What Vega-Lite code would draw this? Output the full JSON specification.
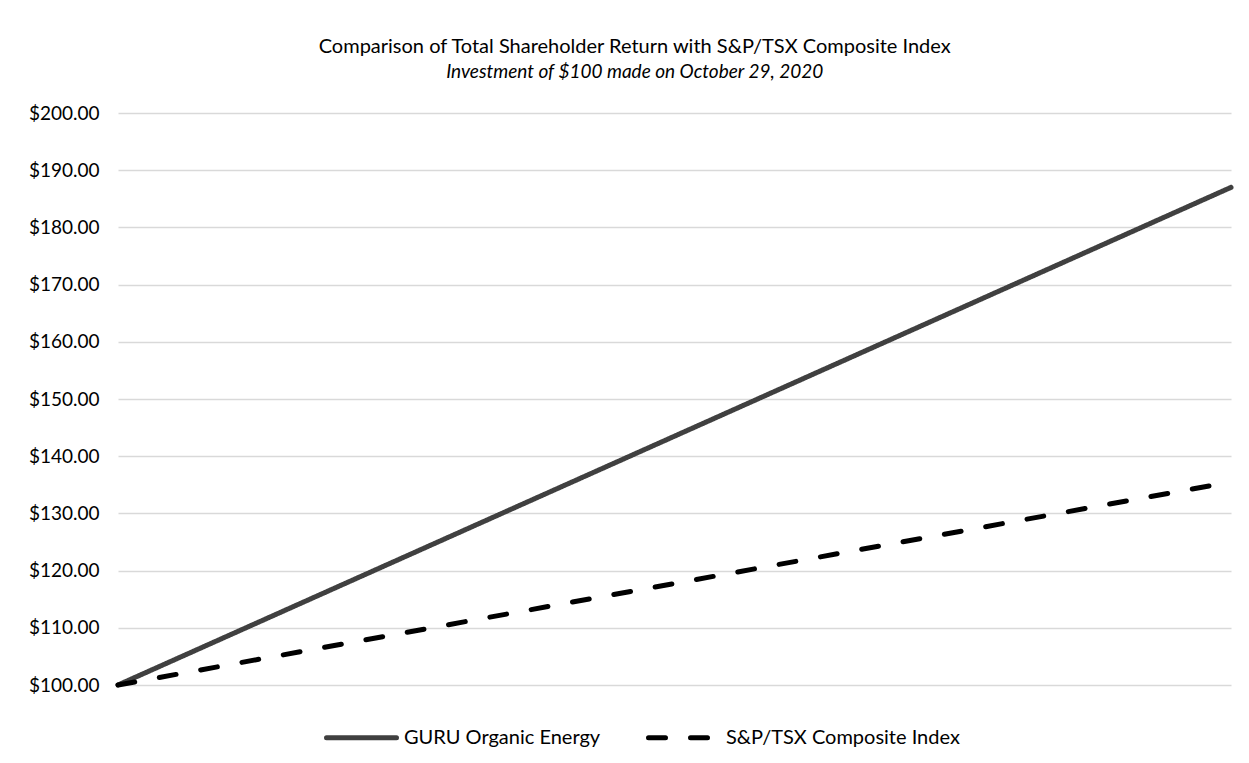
{
  "$schema": "https://vega.github.io/schema/vega-lite/v6.json",
  "width": 1113,
  "height": 572,
  "autosize": {"type": "none"},
  "padding": {"left": 118, "top": 113, "right": 18, "bottom": 78},
  "background": "white",
  "title": {
    "text": "Comparison of Total Shareholder Return with S&P/TSX Composite Index",
    "subtitle": "Investment of $100 made on October 29, 2020",
    "font": "Lato",
    "fontSize": 20,
    "fontWeight": "normal",
    "color": "#000000",
    "subtitleFont": "Lato",
    "subtitleFontSize": 19,
    "subtitleFontStyle": "italic",
    "subtitleColor": "#000000",
    "subtitlePadding": 6,
    "anchor": "middle",
    "frame": "bounds",
    "offset": 22
  },
  "data": {
    "values": [
      {"point": "Oct 29, 2020", "series": "GURU Organic Energy", "value": 100},
      {"point": "End", "series": "GURU Organic Energy", "value": 187},
      {"point": "Oct 29, 2020", "series": "S&P/TSX Composite Index", "value": 100},
      {"point": "End", "series": "S&P/TSX Composite Index", "value": 135.5}
    ]
  },
  "mark": {"type": "line", "strokeWidth": 5, "strokeCap": "round"},
  "encoding": {
    "x": {
      "field": "point",
      "type": "ordinal",
      "sort": null,
      "scale": {"type": "point", "padding": 0},
      "axis": null
    },
    "y": {
      "field": "value",
      "type": "quantitative",
      "scale": {"domain": [100, 200]},
      "axis": {
        "title": null,
        "values": [100, 110, 120, 130, 140, 150, 160, 170, 180, 190, 200],
        "format": "$,.2f",
        "domain": false,
        "ticks": false,
        "labelPadding": 19,
        "labelFont": "Lato",
        "labelFontSize": 19,
        "labelColor": "#000000",
        "gridColor": "#d9d9d9",
        "gridWidth": 1.5
      }
    },
    "color": {
      "field": "series",
      "type": "nominal",
      "scale": {
        "domain": ["GURU Organic Energy", "S&P/TSX Composite Index"],
        "range": ["#404040", "#000000"]
      },
      "legend": {
        "title": null,
        "orient": "none",
        "legendX": 206,
        "legendY": 587,
        "direction": "horizontal",
        "symbolType": "stroke",
        "symbolSize": 4900,
        "symbolStrokeWidth": 5,
        "labelFont": "Lato",
        "labelFontSize": 20,
        "labelColor": "#000000",
        "labelOffset": 5,
        "columnPadding": 37,
        "labelLimit": 400,
        "encode": {"symbols": {"update": {"strokeCap": {"value": "round"}}}}
      }
    },
    "strokeDash": {
      "field": "series",
      "type": "nominal",
      "scale": {
        "domain": ["GURU Organic Energy", "S&P/TSX Composite Index"],
        "range": [[1, 0], [17, 25]]
      },
      "legend": {
        "title": null,
        "orient": "none",
        "legendX": 206,
        "legendY": 587,
        "direction": "horizontal",
        "symbolType": "stroke",
        "symbolSize": 4900,
        "symbolStrokeWidth": 5,
        "labelFont": "Lato",
        "labelFontSize": 20,
        "labelColor": "#000000",
        "labelOffset": 5,
        "columnPadding": 37,
        "labelLimit": 400,
        "encode": {"symbols": {"update": {"strokeCap": {"value": "round"}}}}
      }
    }
  },
  "config": {
    "view": {"stroke": null}
  }
}
